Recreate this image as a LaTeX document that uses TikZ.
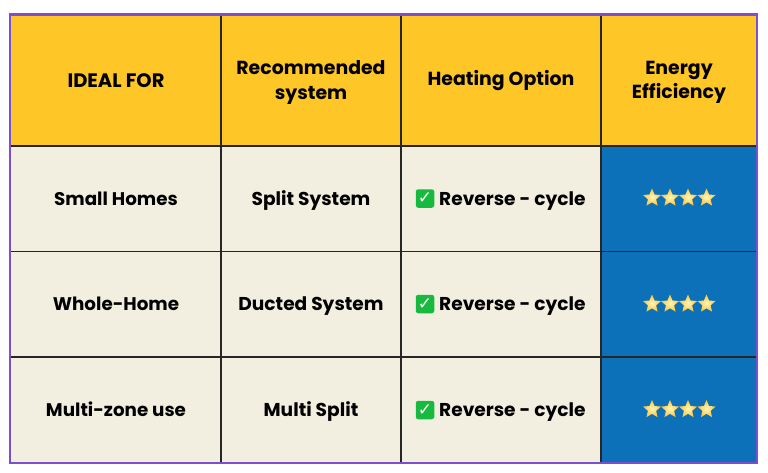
\documentclass[tikz,border=0pt]{standalone}
\usepackage{fontspec}
\setmainfont{Poppins}
\newfontfamily\symfont{DejaVu Sans}
\usetikzlibrary{shapes.geometric}
\definecolor{hdr}{HTML}{FFC627}
\definecolor{cream}{HTML}{F3EFE0}
\definecolor{blu}{HTML}{0C71B9}
\definecolor{purp}{HTML}{7B4FD0}
\definecolor{grn}{HTML}{17B93F}
\definecolor{starcore}{HTML}{FFF7C0}
\definecolor{staredge}{HTML}{FFC22E}
\tikzset{x=1pt,y=-1pt,
  celltext/.style={font=\bfseries\fontsize{18.6}{24.5}\selectfont,text=black,align=center,inner sep=0pt,anchor=base},
  headtext/.style={font=\bfseries\fontsize{18.9}{24.5}\selectfont,text=black,align=center,inner sep=0pt},
  gridline/.style={draw=black!85,line width=1.5pt},
  frameline/.style={draw=purp,line width=2.2pt},
  startile/.style={star,star points=5,star point ratio=2.2,minimum size=19pt,inner sep=0pt,inner color=starcore,outer color=staredge},
  checkbox/.style={fill=grn,rounded corners=2.5pt,minimum size=18.5pt,inner sep=0pt,text=white,font=\symfont\bfseries\fontsize{17}{17}\selectfont}
}
\newcommand{\starrow}[1]{%
  \node[startile] (s#1a) at (652,#1) {};
  \node[startile] (s#1b) at (670,#1) {};
  \node[startile] (s#1c) at (688,#1) {};
  \node[startile] (s#1d) at (706.5,#1) {};
}
\newcommand{\heatcell}[2]{%
  \node[checkbox] (c#1) at (425,#1) {✓};
  \node[celltext,anchor=base west] (h#1) at (439,#2) {Reverse - cycle};
}
\begin{document}
\begin{tikzpicture}
\useasboundingbox (0,0) rectangle (768,472);
\fill[white] (0,0) rectangle (768,472);
\fill[hdr] (10,14.5) rectangle (757,146);
\fill[cream] (10,146) rectangle (601,463);
\fill[blu] (601,146) rectangle (757,463);
\foreach \yy in {146,251.5,357} \draw[gridline] (10,\yy) -- (757,\yy);
\foreach \xx in {221,401,601} \draw[gridline] (\xx,14.5) -- (\xx,463);
\draw[frameline] (10,14.5) rectangle (757,463);
\node[headtext,font=\bfseries\fontsize{19.5}{24.5}\selectfont] (t1) at (116,81) {IDEAL FOR};
\node[headtext] (t2) at (311,82.5) {Recommended\\system};
\node[headtext] (t3) at (501,81) {Heating Option};
\node[headtext] (t4) at (679,82.5) {Energy\\Efficiency};
\node[celltext,font=\bfseries\fontsize{18.3}{24.5}\selectfont] (a1) at (116,205) {Small Homes};
\node[celltext,font=\bfseries\fontsize{18.3}{24.5}\selectfont] (a2) at (116,310.5) {Whole-Home};
\node[celltext,font=\bfseries\fontsize{18.3}{24.5}\selectfont] (a3) at (116,416) {Multi-zone use};
\node[celltext] (b1) at (311,205) {Split System};
\node[celltext] (b2) at (311,310.5) {Ducted System};
\node[celltext] (b3) at (311,416) {Multi Split};
\heatcell{198.5}{205}
\heatcell{304}{310.5}
\heatcell{410}{416}
\starrow{198}
\starrow{304}
\starrow{409.5}
\end{tikzpicture}
\end{document}
